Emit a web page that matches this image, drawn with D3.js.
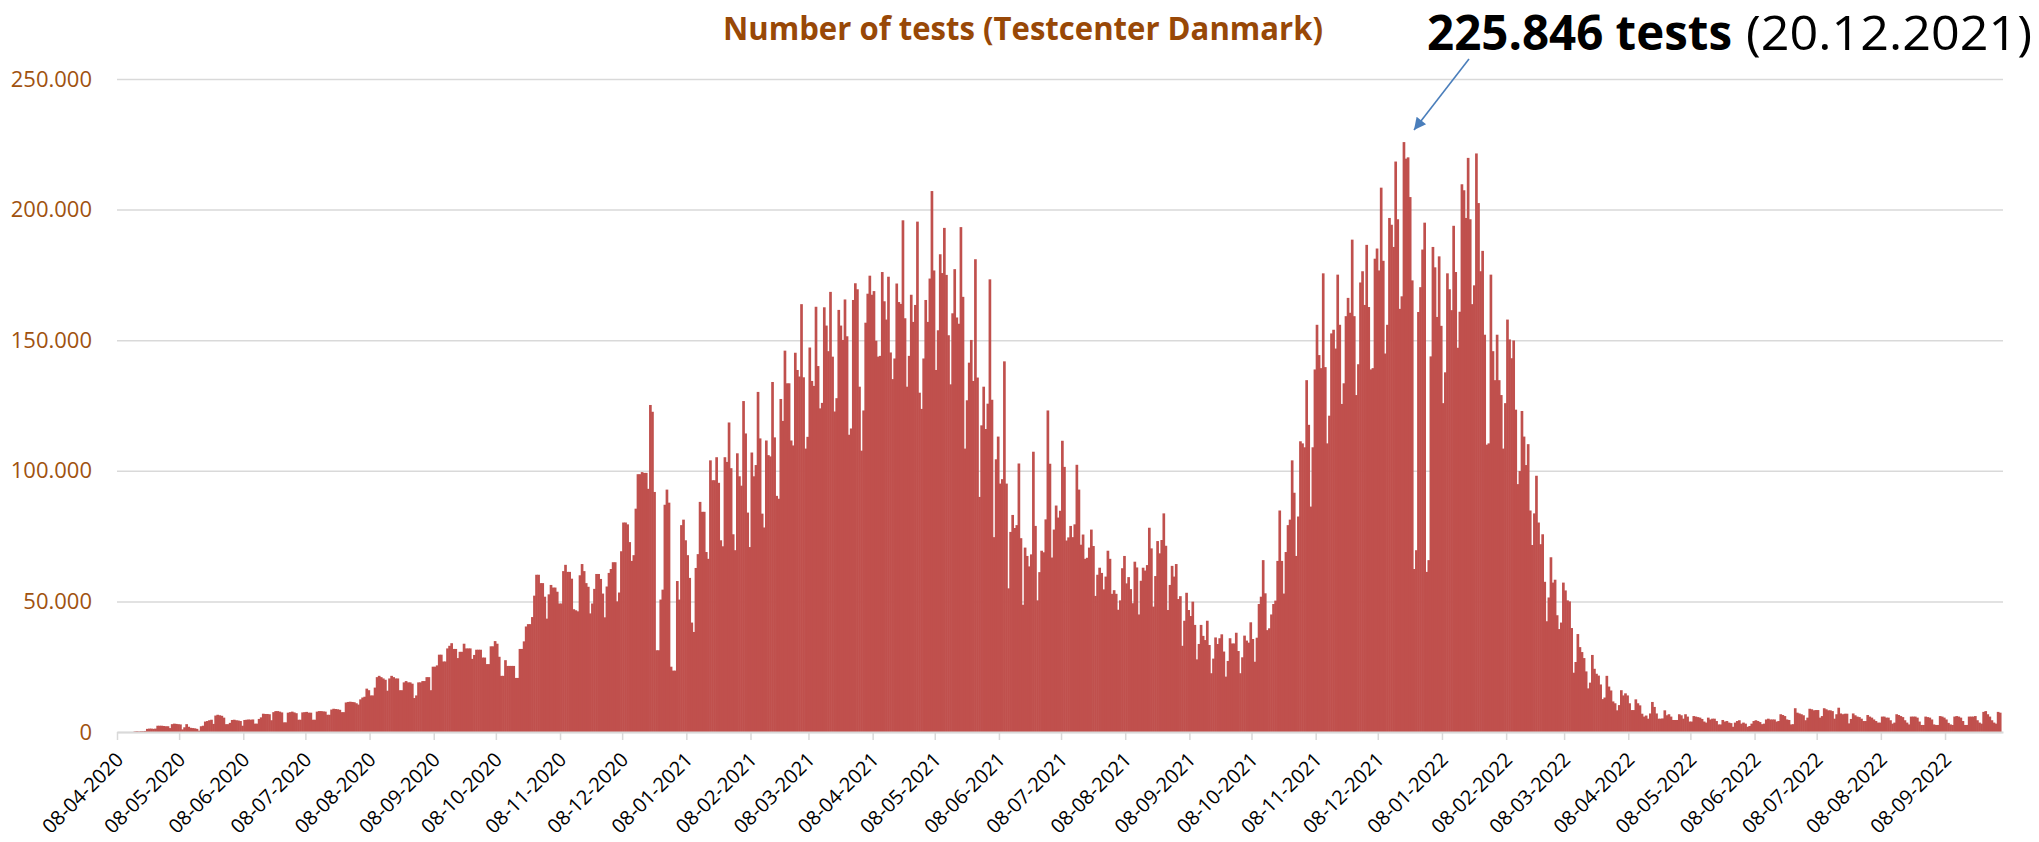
<!DOCTYPE html>
<html lang="en">
<head>
<meta charset="utf-8">
<title>Number of tests (Testcenter Danmark)</title>
<style type="text/css">
  body { margin: 0; background: #fff; }
  .ylab { font-family: "Open Sans", sans-serif; font-size: 22px; fill: #a0520f; }
  .xlab { font-family: "Open Sans", sans-serif; font-size: 20px; fill: #000; }
  .title { font-family: "Open Sans", sans-serif; font-weight: bold; font-size: 31.5px; fill: #984807; }
  .note { font-family: "Open Sans", sans-serif; font-size: 48px; fill: #000; }
</style>
<script type="text/javascript" src="https://cdn.jsdelivr.net/npm/d3@7"></script>
</head>
<body>
<script type="text/javascript">

var w = 2039;
var h = 842;

// daily tests (thousands), one row per week Mon..Sun, first day 13-04-2020
var startDate = Date.UTC(2020, 3, 13);
var tests = [
  0,0,0,0.2,0.3,0.2,0.3,
  0.3,0.4,1.2,1.3,1.3,1.2,1.3,
  2.4,2.4,2.4,2.3,2.2,2.2,1.5,
  3.0,3.2,3.1,3.0,2.9,1.0,1.8,
  3.0,2.0,1.6,1.5,1.4,1.2,0.5,
  2.2,2.4,4.0,4.2,4.5,4.7,3.1,
  6.3,6.6,6.4,6.2,5.5,3.0,3.0,
  3.5,4.6,4.7,4.5,4.4,4.2,2.4,
  4.6,4.7,4.8,4.7,4.8,3.2,3.2,
  5.0,5.6,7.0,6.9,6.9,6.8,4.5,
  7.6,8.0,8.0,7.8,7.5,3.7,3.7,
  7.4,7.6,7.8,7.5,7.2,4.7,4.7,
  7.5,7.6,7.7,7.4,7.4,4.7,4.7,
  7.8,8.0,8.0,7.9,7.8,6.6,6.6,
  8.6,8.9,8.8,8.7,8.5,7.6,7.6,
  11.3,11.5,11.6,11.5,11.4,11.0,10.5,
  12.5,13.2,13.5,16.6,16.0,14.0,14.0,
  17.0,21.0,21.5,21.0,20.5,20.0,15.8,
  20.5,21.5,21.0,20.5,20.5,16.0,16.0,
  19.0,19.5,19.0,19.0,18.5,13.0,14.0,
  19.0,19.0,19.5,19.5,21.0,21.0,16.0,
  25.0,25.0,25.5,29.6,29.6,27.0,27.0,
  32.0,33.0,34.0,31.8,31.8,28.3,30.7,
  30.7,33.8,32.0,32.0,32.0,28.0,29.5,
  31.5,31.5,31.5,28.5,28.5,26.0,26.0,
  32.8,32.8,34.8,33.8,28.8,21.5,21.5,
  27.5,25.3,25.3,25.3,25.3,20.7,20.7,
  31.8,31.8,34.7,40.4,41.3,41.3,44.0,
  52.2,60.2,60.2,57.0,57.0,51.8,43.4,
  52.7,56.3,55.3,55.3,53.7,49.2,49.2,
  61.6,64.0,61.3,61.3,58.7,47.0,46.6,
  46.2,60.0,64.3,61.6,57.0,55.6,45.4,
  49.2,54.8,60.5,60.5,58.6,53.0,43.9,
  55.7,60.9,62.4,65.0,65.0,50.0,53.4,
  69.2,80.2,80.2,79.5,72.7,65.5,67.7,
  85.5,98.7,98.7,99.5,99.2,99.2,93.1,
  125.2,122.6,91.9,31.3,31.3,50.7,54.5,
  87.0,92.8,87.8,25.0,23.5,23.5,57.8,
  50.7,79.2,81.3,73.4,67.7,59.0,41.9,
  38.3,62.8,68.1,88.1,84.3,84.3,68.9,
  66.3,104.0,96.4,96.4,105.2,95.4,73.4,
  71.1,105.2,103.4,118.5,101.0,75.7,69.6,
  106.7,97.9,94.3,126.7,114.3,84.0,70.8,
  107.0,97.9,102.2,130.2,112.4,83.6,78.3,
  111.6,106.0,105.5,134.0,112.8,90.4,89.3,
  127.5,119.1,146.0,133.5,133.5,111.6,109.7,
  145.2,138.6,136.1,163.8,135.8,108.5,113.0,
  147.2,134.4,132.5,162.8,140.1,123.9,126.0,
  162.6,155.6,145.8,168.5,143.7,122.7,127.8,
  161.6,155.6,150.1,165.6,151.5,113.8,116.2,
  165.4,171.8,169.5,132.2,107.7,123.1,156.7,
  167.8,174.7,167.4,168.8,149.8,143.7,144.0,
  176.1,164.9,157.9,174.3,145.3,135.1,143.0,
  171.7,164.6,163.9,195.9,158.4,132.2,144.0,
  167.4,157.0,163.5,195.4,129.9,123.7,143.0,
  165.4,157.0,173.6,207.1,176.7,138.6,153.8,
  182.9,175.7,193.0,175.0,151.9,133.1,160.3,
  177.2,158.7,156.3,193.3,166.6,108.5,127.0,
  141.4,150.1,134.4,181.0,135.7,90.0,117.4,
  132.2,116.0,125.7,173.3,127.2,74.6,104.4,
  113.1,95.1,96.8,141.9,95.1,55.0,76.6,
  83.1,78.1,79.2,102.8,74.2,48.7,70.6,
  67.4,63.4,68.0,107.3,78.9,50.4,61.2,
  69.4,68.8,81.4,123.1,102.7,66.8,77.5,
  86.7,82.1,84.7,111.5,101.5,73.3,74.5,
  78.9,74.6,79.5,102.3,92.8,71.7,75.6,
  66.3,66.7,70.6,77.5,71.2,52.1,60.2,
  62.9,60.9,54.6,59.5,69.4,66.3,52.9,
  54.3,52.9,46.8,50.4,62.7,67.4,56.9,
  59.3,54.7,49.3,65.2,63.0,45.0,57.9,
  62.9,61.8,63.9,78.2,70.3,48.0,59.7,
  73.1,68.4,73.5,83.7,71.3,46.7,56.3,
  63.6,59.5,64.3,50.9,52.0,33.0,42.6,
  53.3,46.7,44.4,49.9,41.0,27.8,33.7,
  41.0,36.8,35.2,42.6,33.3,22.5,28.1,
  36.2,33.7,35.9,37.4,30.8,21.2,27.2,
  35.9,33.9,33.9,38.0,31.0,22.5,28.6,
  36.9,35.0,34.2,42.0,35.6,26.9,36.1,
  49.0,51.8,65.8,53.1,39.0,39.7,45.0,
  49.0,50.3,65.5,84.8,65.5,53.0,68.9,
  79.2,81.3,104.0,91.6,67.4,82.5,111.3,
  110.5,109.0,134.7,117.6,86.3,109.0,138.8,
  155.9,144.3,139.3,175.6,139.7,110.5,121.1,
  152.6,154.0,146.8,175.1,155.9,125.6,133.5,
  159.2,166.2,160.5,188.5,159.2,129.0,140.8,
  172.1,176.4,163.5,186.5,162.7,138.8,139.3,
  181.2,185.1,176.7,208.4,180.4,144.9,155.9,
  196.8,194.2,185.7,218.4,196.3,162.0,166.8,
  225.846,219.5,220.0,204.8,172.9,62.4,69.6,
  160.8,170.3,184.7,195.0,61.3,65.8,143.8,
  185.7,177.9,158.9,182.1,155.5,125.9,137.7,
  175.6,169.5,161.5,193.8,176.1,147.1,160.9,
  209.7,207.4,196.8,219.8,196.3,163.8,171.0,
  221.5,202.5,176.4,184.2,152.1,110.0,110.5,
  175.1,145.8,134.7,152.1,134.7,129.0,108.5,
  125.9,157.9,150.3,143.1,149.9,123.4,94.9,
  99.9,122.9,113.1,102.2,110.2,84.8,71.6,
  83.7,98.1,80.2,71.9,75.7,57.5,42.4,
  51.5,66.9,57.2,58.3,44.7,39.4,41.9,
  57.2,54.2,50.4,50.0,39.8,22.7,26.8,
  37.5,32.5,30.6,28.3,23.2,16.7,18.9,
  29.5,24.2,22.3,21.6,18.2,12.6,13.2,
  21.5,17.4,15.9,11.7,11.0,8.3,10.3,
  16.0,14.0,14.8,14.0,11.0,8.4,8.4,
  12.5,11.0,10.2,7.0,5.9,6.3,5.1,
  7.1,11.5,9.6,7.1,5.1,5.1,5.2,
  8.3,6.4,6.8,5.9,4.6,4.6,4.6,
  6.8,6.4,5.1,6.8,5.9,4.0,4.0,
  6.1,5.9,5.7,5.5,5.0,4.0,3.6,
  5.5,4.8,5.1,5.1,4.2,2.9,2.9,
  4.6,4.0,4.2,3.6,3.4,2.0,3.6,
  4.2,4.5,3.2,3.6,3.2,2.0,2.3,
  3.2,4.2,4.5,4.2,3.8,3.0,3.2,
  4.8,5.1,4.8,4.8,4.8,4.0,4.2,
  6.8,6.5,6.1,4.8,4.6,2.9,3.0,
  9.1,7.4,7.1,6.8,6.4,4.5,5.5,
  8.9,8.7,8.3,8.4,8.4,5.5,6.1,
  9.1,8.7,8.3,8.3,8.0,5.1,6.8,
  9.3,7.1,6.8,7.0,7.0,3.3,5.0,
  7.1,6.4,5.9,5.7,5.1,4.2,4.2,
  6.5,5.9,5.5,4.8,4.2,3.6,3.6,
  5.9,5.9,5.5,5.5,4.5,3.2,3.6,
  6.8,6.5,6.1,5.7,4.5,3.6,2.9,
  5.9,5.9,5.9,5.5,4.0,2.7,2.7,
  5.9,5.7,5.5,4.8,2.9,2.7,2.7,
  6.1,5.9,5.5,4.8,3.5,2.9,2.7,
  5.9,6.1,5.9,5.5,4.2,2.7,2.7,
  5.9,5.9,5.9,6.1,4.5,3.6,3.2,
  7.7,8.0,6.8,5.9,4.5,3.6,3.2,
  7.7,7.4
];

var yTicks = [0, 50, 100, 150, 200, 250];
var yTickLabels = ['0', '50.000', '100.000', '150.000', '200.000', '250.000'];
var titleText = 'Number of tests (Testcenter Danmark)';
var peakText = '225.846 tests';
var peakDateText = '(20.12.2021)';

// plot box (window.top is reserved, so no "top")
var plotL = 117, plotR = 2003, plotT = 79, plotB = 732;

var svg = d3.select('body')
  .append('svg')
  .attr('width', w)
  .attr('height', h);

var day0 = new Date(startDate);
var data = tests.map(function(v, i){ return {date: d3.utcDay.offset(day0, i), value: v}; });

var x = d3.scaleUtc()
  .domain([new Date(Date.UTC(2020, 3, 8)), new Date(Date.UTC(2022, 9, 6))])
  .range([plotL, plotR]);
var y = d3.scaleLinear().domain([0, 250]).range([plotB, plotT]);

// gridlines + y labels
var gy = svg.append('g')
  .attr('transform', 'translate(' + plotL + ',0)')
  .call(d3.axisLeft(y)
    .tickValues(yTicks)
    .tickSize(-(plotR - plotL))
    .tickPadding(25)
    .tickFormat(function(d, i){ return yTickLabels[i]; }));
gy.attr('font-family', null).attr('font-size', null);
gy.select('.domain').remove();
gy.selectAll('.tick line').attr('stroke', '#d9d9d9').attr('stroke-width', 1.5);
gy.selectAll('.tick text').attr('class', 'ylab').attr('fill', null);

// bars (a little overlap so no white seams between days)
svg.append('g').selectAll('rect')
  .data(data)
  .enter()
  .append('rect')
  .attr('x', function(d){ return x(d.date); })
  .attr('width', function(d){ return x(d3.utcDay.offset(d.date, 1)) - x(d.date) + 0.6; })
  .attr('y', function(d){ return y(d.value); })
  .attr('height', function(d){ return plotB - y(d.value); })
  .attr('fill', '#c0504d');

// x axis, a tick on the 8th of every month
var monthTicks = d3.utcMonth.range(new Date(Date.UTC(2020, 3, 1)), new Date(Date.UTC(2022, 9, 1)))
  .map(function(m){ return d3.utcDay.offset(m, 7); });

var gx = svg.append('g')
  .attr('transform', 'translate(0,' + plotB + ')')
  .call(d3.axisBottom(x)
    .tickValues(monthTicks)
    .tickFormat(d3.utcFormat('%d-%m-%Y'))
    .tickSizeInner(8)
    .tickSizeOuter(0));
gx.attr('font-family', null).attr('font-size', null);
gx.select('.domain').attr('stroke', '#d9d9d9').attr('stroke-width', 2);
gx.selectAll('.tick line').attr('stroke', '#d9d9d9').attr('stroke-width', 1.5);
gx.selectAll('.tick text')
  .attr('class', 'xlab')
  .attr('fill', null)
  .attr('x', 0).attr('y', 0).attr('dy', 0)
  .attr('text-anchor', 'end')
  .attr('transform', 'translate(7,29) rotate(-45)');

// title
svg.append('text')
  .attr('class', 'title')
  .attr('x', 723)
  .attr('y', 40)
  .attr('textLength', 600)
  .attr('lengthAdjust', 'spacingAndGlyphs')
  .text(titleText);

// peak annotation
var note = svg.append('text').attr('class', 'note').attr('y', 50);
note.append('tspan')
  .attr('x', 1427)
  .attr('font-weight', 'bold')
  .attr('textLength', 305)
  .attr('lengthAdjust', 'spacingAndGlyphs')
  .text(peakText);
note.append('tspan')
  .attr('x', 1746)
  .attr('textLength', 286)
  .attr('lengthAdjust', 'spacingAndGlyphs')
  .text(peakDateText);

svg.append('defs').append('marker')
  .attr('id', 'arrow')
  .attr('markerUnits', 'userSpaceOnUse')
  .attr('viewBox', '0 0 10 10')
  .attr('refX', 10).attr('refY', 5)
  .attr('markerWidth', 15).attr('markerHeight', 12)
  .attr('orient', 'auto')
  .append('path')
  .attr('d', 'M0,0L10,5L0,10z')
  .attr('fill', '#4a7ebb');

svg.append('line')
  .attr('x1', 1469).attr('y1', 59)
  .attr('x2', 1414).attr('y2', 130)
  .attr('stroke', '#4a7ebb')
  .attr('stroke-width', 1.6)
  .attr('marker-end', 'url(#arrow)');

</script>
</body>
</html>
